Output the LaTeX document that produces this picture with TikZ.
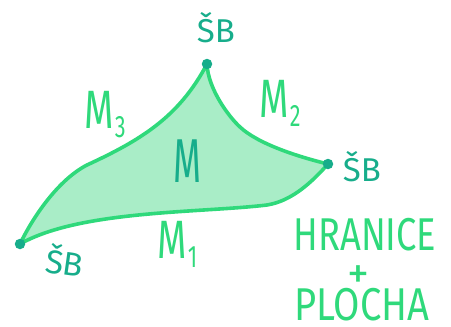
\documentclass[tikz,border=0pt]{standalone}
\usepackage{fontspec}
\setmainfont{Fira Sans}
\usetikzlibrary{positioning}
\definecolor{linegreen}{RGB}{47,217,123}
\definecolor{fillgreen}{RGB}{169,237,199}
\definecolor{darkteal}{RGB}{23,173,139}
\newcommand{\msub}[2]{#1\kern2pt\raisebox{-9pt}{\fontsize{31}{31}\selectfont #2}}

\begin{document}
\begin{tikzpicture}[x=1pt,y=-1pt,
  edge/.style={linegreen, line width=3.6pt, line cap=round, line join=round},
  corner/.style={circle, fill=darkteal, inner sep=0pt, minimum size=10.5pt},
  sblabel/.style={darkteal, font=\fontsize{33}{33}\selectfont, inner sep=0pt, anchor=base},
  mlabel/.style={linegreen, font=\fontsize{54}{54}\selectfont, inner sep=0pt, anchor=base west, xscale=0.7},
  note/.style={linegreen, font=\fontsize{46}{46}\selectfont, inner sep=0pt, anchor=base, xscale=0.79}]
  \useasboundingbox (0,0) rectangle (451,327);
  \coordinate (cl) at (20,244);
  \coordinate (ct) at (207,64);
  \coordinate (cr) at (328,164);
  % plocha M s hranici M1, M2, M3
  \filldraw[edge, fill=fillgreen]
    (cl) .. controls (33,217) and (58,180) .. (87,165)
         .. controls (141,140) and (179,117) .. (ct)
         .. controls (208,89) and (229,117) .. (240,127)
         .. controls (258,144) and (299,157) .. (cr)
         .. controls (312,182) and (292,201) .. (267,205)
         .. controls (200,213) and (80,210) .. (cl) -- cycle;
  \node[corner] (dl) at (cl) {};
  \node[corner] (dt) at (ct) {};
  \node[corner] (dr) at (cr) {};
  % popisky
  \node[sblabel] (sbt) at (216,42) {ŠB};
  \node[sblabel] (sbr) at (362,181) {ŠB};
  \node[sblabel, rotate=-8] (sbl) at (63,275) {ŠB};
  \node[mlabel] (m3) at (84,128) {\msub{M}{3}};
  \node[mlabel] (m2) at (259,117) {\msub{M}{2}};
  \node[mlabel] (m1) at (157,258) {\msub{M}{1}};
  \node[darkteal, font=\fontsize{62}{62}\selectfont, inner sep=0pt, anchor=base, xscale=0.58] (m) at (187,182) {M};
  \node[note] (hranice) at (365,250) {HRANICE};
  \node[linegreen, font=\fontsize{44}{44}\selectfont, inner sep=0pt] (plus) at (358,277) {+};
  \node[note, xscale=1.05] (plocha) at (362,320) {PLOCHA};
\end{tikzpicture}
\end{document}
